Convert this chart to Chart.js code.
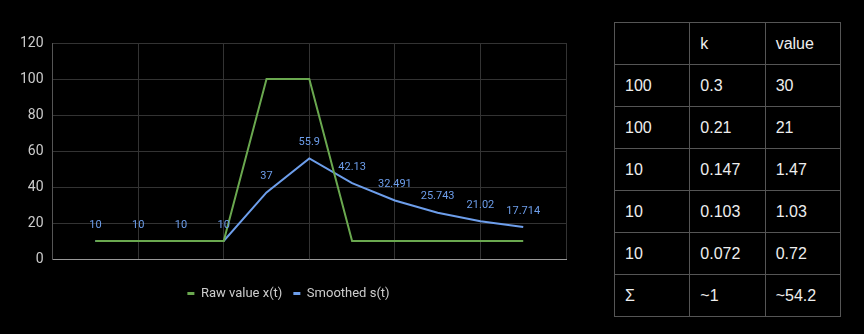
<!DOCTYPE html>
<html>
<head>
<meta charset="utf-8">
<script src="https://cdn.jsdelivr.net/npm/chart.js@4/dist/chart.umd.min.js"></script>
<style>
  html, body { margin: 0; padding: 0; background: #000; }
  body { width: 864px; height: 334px; position: relative; overflow: hidden; }
  #chartBox { position: absolute; left: 0; top: 0; width: 590px; height: 334px; }
  #weights {
    position: absolute; left: 614px; top: 22px; width: 227px; height: 291px;
    border-collapse: collapse; table-layout: fixed;
    font-family: "Liberation Sans", Arial, sans-serif; font-size: 16px; color: #eee;
  }
  #weights td { border: 1px solid #555; padding: 0 0 0 10px; height: 41px; }
</style>
</head>
<body>
<div id="chartBox"><canvas id="chart"></canvas></div>
<table id="weights"></table>
<script>
// time steps and the two series
const steps = [1, 2, 3, 4, 5, 6, 7, 8, 9, 10, 11];
const rawValues = [10, 10, 10, 10, 100, 100, 10, 10, 10, 10, 10];
const smoothedValues = [10, 10, 10, 10, 37, 55.9, 42.13, 32.491, 25.743, 21.02, 17.714];

// weight table
const tableHeader = ["", "k", "value"];
const tableInputs = ["100", "100", "10", "10", "10", "Σ"];
const tableWeights = ["0.3", "0.21", "0.147", "0.103", "0.072", "~1"];
const tableProducts = ["30", "21", "1.47", "1.03", "0.72", "~54.2"];

const GREEN = "#6aa84f";
const BLUE = "#6d9eeb";

// build the table
const table = document.getElementById("weights");
const rows = [tableHeader].concat(tableInputs.map((v, i) => [v, tableWeights[i], tableProducts[i]]));
rows.forEach((r) => {
  const tr = document.createElement("tr");
  r.forEach((c) => {
    const td = document.createElement("td");
    td.textContent = c;
    tr.appendChild(td);
  });
  table.appendChild(tr);
});

// value labels above the smoothed line
const valueLabels = {
  id: "valueLabels",
  afterDatasetsDraw(chart) {
    const ctx = chart.ctx;
    const meta = chart.getDatasetMeta(1);
    ctx.save();
    ctx.font = "11px Roboto";
    ctx.fillStyle = BLUE;
    ctx.textAlign = "center";
    ctx.textBaseline = "middle";
    meta.data.forEach((pt, i) => {
      ctx.fillText(String(smoothedValues[i]), pt.x, pt.y - 16);
    });
    ctx.restore();
  },
};

Chart.defaults.font.family = "Roboto";

new Chart(document.getElementById("chart").getContext("2d"), {
  type: "line",
  data: {
    labels: steps,
    datasets: [
      {
        label: "Raw value x(t)",
        data: steps.map((t, i) => ({ x: t, y: rawValues[i] })),
        borderColor: GREEN,
        backgroundColor: GREEN,
        borderWidth: 2,
        pointRadius: 0,
        tension: 0,
      },
      {
        label: "Smoothed s(t)",
        data: steps.map((t, i) => ({ x: t, y: smoothedValues[i] })),
        borderColor: BLUE,
        backgroundColor: BLUE,
        borderWidth: 2,
        pointRadius: 0,
        tension: 0,
      },
    ],
  },
  options: {
    responsive: true,
    maintainAspectRatio: false,
    animation: false,
    layout: { padding: { left: 11, right: 24, top: 43, bottom: 24 } },
    scales: {
      x: {
        type: "linear",
        min: 0,
        max: 12,
        ticks: { display: false, stepSize: 2 },
        grid: { color: "#333", drawTicks: false },
        border: { color: "#999" },
        // leave a gap between the plot and the legend
        afterFit: (scale) => { scale.height = 17; },
      },
      y: {
        min: 0,
        max: 120,
        ticks: { stepSize: 20, color: "#ccc", font: { size: 14 }, padding: 9 },
        grid: { color: "#333", drawTicks: false },
        border: { color: "#555" },
      },
    },
    plugins: {
      legend: {
        position: "bottom",
        labels: {
          color: "#ccc",
          font: { size: 13 },
          boxWidth: 7,
          boxHeight: 3,
          padding: 11,
          generateLabels: (chart) =>
            Chart.defaults.plugins.legend.labels.generateLabels(chart).map((l) => ({ ...l, lineWidth: 0 })),
        },
      },
      tooltip: { enabled: false },
    },
  },
  plugins: [valueLabels],
});
</script>
</body>
</html>
